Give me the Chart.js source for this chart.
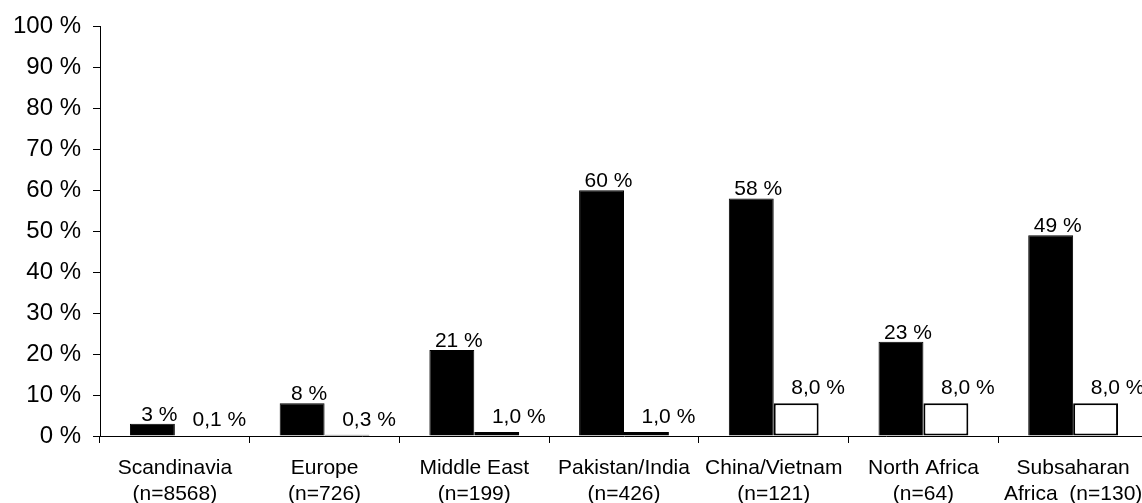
<!DOCTYPE html>
<html lang="en">
<head>
  <meta charset="UTF-8" />
  <title>Share by region</title>
  <script src="https://cdn.jsdelivr.net/npm/chart.js"></script>
  <style>
    body {
      margin: 0;
      padding: 0;
      background: #fff;
      overflow: hidden;
    }
    .chart-box {
      width: 1148px;
      height: 503px;
    }
  </style>
</head>
<body>
  <div class="chart-box">
    <canvas id="barChart"></canvas>
  </div>

  <script>
    const regions = [
      ["Scandinavia", "(n=8568)"],
      ["Europe", "(n=726)"],
      ["Middle East", "(n=199)"],
      ["Pakistan/India", "(n=426)"],
      ["China/Vietnam", "(n=121)"],
      ["North Africa", "(n=64)"],
      ["Subsaharan", "Africa  (n=130)"]
    ];
    const blackValues = [3, 8, 21, 60, 58, 23, 49];
    const whiteValues = [0.1, 0.3, 1.0, 1.0, 8.0, 8.0, 8.0];
    const yTicks = [0, 10, 20, 30, 40, 50, 60, 70, 80, 90, 100];

    const FONT = "'Liberation Sans', Arial, sans-serif";

    // labels above bars, Excel style
    const barLabels = {
      id: 'barLabels',
      afterDatasetsDraw(chart) {
        const ctx = chart.ctx;
        ctx.save();
        ctx.font = '21px ' + FONT;
        ctx.fillStyle = '#000';
        ctx.textAlign = 'center';
        ctx.textBaseline = 'middle';
        chart.data.datasets.forEach((ds, i) => {
          chart.getDatasetMeta(i).data.forEach((bar, j) => {
            const v = ds.data[j];
            let text, dx, dy;
            if (i === 0) {
              text = v + ' %';
              dx = 7; dy = 9;
            } else {
              text = v.toFixed(1).replace('.', ',') + ' %';
              dx = 22; dy = 15;
            }
            ctx.fillText(text, bar.x + dx, bar.y - dy);
          });
        });
        ctx.restore();
      }
    };

    const ctx = document.getElementById("barChart").getContext("2d");
    const chart = new Chart(ctx, {
      type: "bar",
      data: {
        labels: regions,
        datasets: [{
          label: "A",
          data: blackValues,
          backgroundColor: "#000",
          borderColor: "#000",
          borderWidth: 1,
          categoryPercentage: 0.6,
          barPercentage: 1.0
        }, {
          label: "B",
          data: whiteValues,
          backgroundColor: "#fff",
          borderColor: "#000",
          borderWidth: 2,
          borderSkipped: false,
          categoryPercentage: 0.6,
          barPercentage: 1.0
        }]
      },
      options: {
        responsive: true,
        maintainAspectRatio: false,
        animation: false,
        layout: { padding: { top: 24, left: 0, right: 0, bottom: 0 } },
        plugins: {
          legend: { display: false },
          tooltip: { enabled: false }
        },
        scales: {
          x: {
            grid: {
              offset: true,
              drawOnChartArea: false,
              drawTicks: true,
              tickLength: 7,
              color: '#000'
            },
            border: { display: true, color: '#000', width: 1 },
            ticks: {
              color: '#000',
              font: { family: FONT, size: 21 },
              padding: 13,
              maxRotation: 0,
              autoSkip: false
            },
            afterFit(scale) {
              scale.height = 67;
              scale.paddingLeft = 0;
              scale.paddingRight = 0;
            }
          },
          y: {
            min: 0,
            max: 100,
            afterBuildTicks(scale) {
              scale.ticks = yTicks.map(v => ({ value: v }));
            },
            grid: {
              drawOnChartArea: false,
              drawTicks: true,
              tickLength: 7,
              color: '#000'
            },
            border: { display: true, color: '#000', width: 1 },
            ticks: {
              color: '#000',
              font: { family: FONT, size: 24 },
              padding: 12,
              callback: v => v + ' %'
            },
            afterFit(scale) { scale.width = 100; }
          }
        }
      },
      plugins: [barLabels]
    });
  </script>
</body>
</html>
